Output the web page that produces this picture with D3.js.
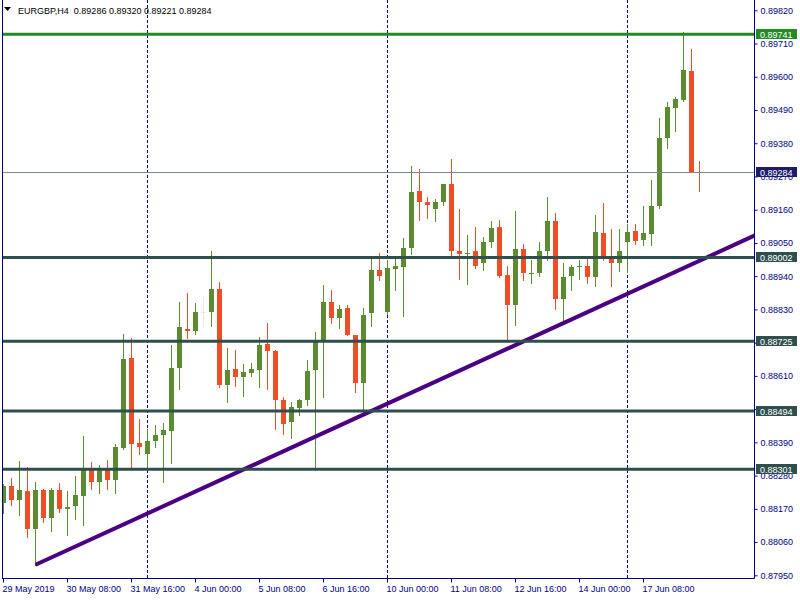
<!DOCTYPE html>
<html><head><meta charset="utf-8">
<script src="https://cdn.jsdelivr.net/npm/d3@7"></script>
<style>
body{margin:0;background:#fff}
svg{display:block}
text{font-family:"Liberation Sans",Arial,sans-serif;font-size:9px}
</style>
</head><body><svg id="c" width="800" height="600"></svg>
<script>
const headerText = "EURGBP,H4  0.89286 0.89320 0.89221 0.89284";
const opens  = [0.88189,0.88246,0.88198,0.88230,0.88102,0.88233,0.88138,0.88233,0.88171,0.88178,
  0.88214,0.88299,0.88260,0.88306,0.88264,0.88372,0.88670,0.88389,0.88350,0.88393,
  0.88413,0.88429,0.88635,0.88766,0.88757,0.88822,0.88823,0.88898,0.88581,0.88634,
  0.88605,0.88621,0.88628,0.88716,0.88693,0.88531,0.88459,0.88505,0.88529,0.88628,
  0.88724,0.88855,0.88803,0.88835,0.88746,0.88588,0.88817,0.88961,0.88820,0.88965,
  0.88972,0.89032,0.89223,0.89186,0.89161,0.89184,0.89246,0.89024,0.89015,0.89024,
  0.88982,0.89052,0.89104,0.88945,0.88843,0.89031,0.88949,0.88950,0.89022,0.89123,
  0.88863,0.88939,0.88969,0.88974,0.88936,0.89084,0.89001,0.88982,0.89052,0.89090,
  0.89061,0.89081,0.89171,0.89396,0.89497,0.89524,0.89620,0.89286];
const highs  = [0.88253,0.88272,0.88329,0.88309,0.88260,0.88235,0.88240,0.88256,0.88230,0.88279,
  0.88412,0.88326,0.88316,0.88332,0.88385,0.88749,0.88736,0.88468,0.88435,0.88448,
  0.88455,0.88713,0.88855,0.88885,0.88852,0.88875,0.89024,0.88922,0.88703,0.88696,
  0.88650,0.88653,0.88739,0.88786,0.88696,0.88541,0.88524,0.88534,0.88663,0.88756,
  0.88912,0.88895,0.88845,0.88845,0.88746,0.88835,0.89004,0.89018,0.88994,0.88998,
  0.89067,0.89305,0.89296,0.89203,0.89196,0.89246,0.89329,0.89163,0.89077,0.89104,
  0.89070,0.89123,0.89127,0.88974,0.89157,0.89047,0.88994,0.89054,0.89203,0.89150,
  0.88984,0.88978,0.88994,0.89004,0.89143,0.89183,0.89097,0.89097,0.89114,0.89114,
  0.89173,0.89259,0.89464,0.89517,0.89534,0.89748,0.89693,0.89320];
const lows   = [0.88156,0.88184,0.88151,0.88078,0.87985,0.88128,0.88095,0.88161,0.88082,0.88135,
  0.88115,0.88234,0.88221,0.88237,0.88224,0.88369,0.88304,0.88350,0.88299,0.88373,
  0.88260,0.88323,0.88565,0.88734,0.88747,0.88774,0.88774,0.88572,0.88522,0.88575,
  0.88542,0.88611,0.88572,0.88568,0.88433,0.88419,0.88406,0.88482,0.88512,0.88300,
  0.88539,0.88786,0.88770,0.88744,0.88558,0.88492,0.88774,0.88926,0.88815,0.88893,
  0.88807,0.89015,0.89127,0.89133,0.89121,0.89174,0.89002,0.88932,0.88913,0.88966,
  0.88962,0.89038,0.88938,0.88721,0.88779,0.88926,0.88916,0.88939,0.88992,0.88833,
  0.88793,0.88893,0.88932,0.88919,0.88909,0.88995,0.88909,0.88956,0.88955,0.89048,
  0.89042,0.89042,0.89166,0.89363,0.89419,0.89521,0.89286,0.89221];
const closes = [0.88246,0.88198,0.88233,0.88102,0.88233,0.88141,0.88233,0.88171,0.88177,0.88216,
  0.88299,0.88260,0.88303,0.88264,0.88375,0.88667,0.88386,0.88373,0.88395,0.88415,
  0.88432,0.88637,0.88773,0.88760,0.88822,0.88822,0.88898,0.88581,0.88630,0.88605,
  0.88624,0.88634,0.88713,0.88691,0.88529,0.88452,0.88508,0.88531,0.88627,0.88726,
  0.88855,0.88802,0.88832,0.88744,0.88588,0.88812,0.88961,0.88942,0.88968,0.88974,
  0.89034,0.89219,0.89184,0.89174,0.89186,0.89246,0.89022,0.89015,0.89018,0.88975,
  0.89054,0.89100,0.88941,0.88843,0.89031,0.88949,0.88951,0.89024,0.89123,0.88863,
  0.88938,0.88971,0.88974,0.88936,0.89087,0.88999,0.88982,0.89024,0.89087,0.89058,
  0.89084,0.89173,0.89398,0.89501,0.89527,0.89623,0.89286,0.89284];
const timeTickIndex  = [0,8,16,24,32,40,48,56,64,72,80];
const timeTickLabels = ["29 May 2019","30 May 08:00","31 May 16:00","4 Jun 00:00","5 Jun 08:00","6 Jun 16:00",
  "10 Jun 00:00","11 Jun 08:00","12 Jun 16:00","14 Jun 00:00","17 Jun 08:00"];
const separatorIndex = [18,48,78];
const priceTicks = [0.87950,0.88060,0.88170,0.88280,0.88390,0.88500,0.88610,0.88720,0.88830,0.88940,
  0.89050,0.89160,0.89270,0.89380,0.89490,0.89600,0.89710,0.89820];
const levelValues = [0.89002,0.88725,0.88494,0.88301];
const resistanceValue = 0.89741;
const bidValue = 0.89284;
const trendIndex = [4,62];
const trendPrice = [0.87985,0.88688];

const svg = d3.select("#c");
const L = 2, R = 754, B = 578;
const x = d3.scaleLinear().domain([0,87]).range([3.5,699.5]);
const y = d3.scaleLinear().domain([0.8795,0.8982]).range([575.3,10.3]);
const navy = "#000080", up = "#5B8C2F", dn = "#F24C24", doji = "#F3E3D5";

svg.append("rect").attr("width",800).attr("height",600).attr("fill","#fff");
svg.append("defs").append("clipPath").attr("id","plot").append("rect")
  .attr("x",L).attr("y",0).attr("width",R-L).attr("height",B);

const plot = svg.append("g").attr("clip-path","url(#plot)");

// period separators
plot.selectAll("line.sep").data(separatorIndex).join("line")
  .attr("x1",d=>Math.floor(x(d))+0.5).attr("x2",d=>Math.floor(x(d))+0.5)
  .attr("y1",0).attr("y2",B).attr("stroke",navy).attr("stroke-width",1)
  .attr("stroke-dasharray","3,2");

// candles
const data = opens.map((o,i)=>({i,o,h:highs[i],l:lows[i],c:closes[i]}));
const col = d => d.c>d.o ? up : (d.c<d.o ? dn : doji);
const cg = plot.append("g");
cg.selectAll("line").data(data).join("line")
  .attr("x1",d=>Math.floor(x(d.i))+0.5).attr("x2",d=>Math.floor(x(d.i))+0.5)
  .attr("y1",d=>Math.round(y(d.h))).attr("y2",d=>Math.round(y(d.l))+1)
  .attr("stroke",col).attr("stroke-width",1);
cg.selectAll("rect").data(data).join("rect")
  .attr("x",d=>Math.floor(x(d.i))-2)
  .attr("width",5)
  .attr("y",d=>Math.round(y(Math.max(d.o,d.c))))
  .attr("height",d=>Math.max(1,Math.round(y(Math.min(d.o,d.c)))-Math.round(y(Math.max(d.o,d.c)))))
  .attr("fill",col);

// trend line
const slope = (trendPrice[1]-trendPrice[0])/(trendIndex[1]-trendIndex[0]);
const xEnd = x.invert(R+2);
const trendPts = [[trendIndex[0],trendPrice[0]],[xEnd,trendPrice[0]+slope*(xEnd-trendIndex[0])]];
plot.append("path").attr("d",d3.line().x(d=>x(d[0])).y(d=>y(d[1]))(trendPts))
  .attr("stroke","#4B0082").attr("stroke-width",4).attr("fill","none");

// horizontal levels
plot.selectAll("line.lvl").data(levelValues).join("line")
  .attr("x1",L).attr("x2",R).attr("y1",d=>y(d)).attr("y2",d=>y(d))
  .attr("stroke","#2F4F4F").attr("stroke-width",3);
plot.append("line").attr("x1",L).attr("x2",R).attr("y1",y(resistanceValue)).attr("y2",y(resistanceValue))
  .attr("stroke","#228B22").attr("stroke-width",3);
plot.append("line").attr("x1",L).attr("x2",R)
  .attr("y1",Math.round(y(bidValue))+0.5).attr("y2",Math.round(y(bidValue))+0.5)
  .attr("stroke","#778899").attr("stroke-width",1);

// frame
svg.append("line").attr("x1",L+0.5).attr("x2",L+0.5).attr("y1",0).attr("y2",B+0.5).attr("stroke",navy);
svg.append("line").attr("x1",L).attr("x2",R+0.5).attr("y1",B+0.5).attr("y2",B+0.5).attr("stroke",navy);
svg.append("line").attr("x1",R+0.5).attr("x2",R+0.5).attr("y1",0).attr("y2",B+0.5).attr("stroke",navy);

// right axis
const ay = svg.append("g").attr("transform",`translate(${R+0.5},0)`)
  .call(d3.axisRight(y).tickValues(priceTicks).tickFormat(d3.format(".5f")).tickSize(3).tickSizeOuter(0).tickPadding(3));
ay.select(".domain").remove();
ay.selectAll("line").attr("stroke",navy);
ay.selectAll("text").attr("fill",navy).style("font-family",'"Liberation Sans",Arial,sans-serif').style("font-size","9px");

// bottom axis
const ax = svg.append("g").attr("transform",`translate(0,${B+0.5})`)
  .call(d3.axisBottom(x).tickValues(timeTickIndex).tickFormat((d,k)=>timeTickLabels[k]).tickSize(4).tickSizeOuter(0));
ax.select(".domain").remove();
ax.selectAll(".tick").attr("transform",d=>`translate(${Math.floor(x(d))+0.5},0)`);
ax.selectAll("line").attr("stroke",navy);
ax.selectAll("text").attr("fill",navy).attr("text-anchor","start").attr("x",-1).attr("y",7)
  .style("font-family",'"Liberation Sans",Arial,sans-serif').style("font-size","9px");

// price labels
const tags = [
  {v:resistanceValue, fill:"#228B22"},
  ...levelValues.map(v=>({v, fill:"#2F4F4F"})),
  {v:bidValue, fill:"#1C1C6B"}
];
const tg = svg.append("g");
tags.forEach(t=>{
  const yy = Math.round(y(t.v));
  tg.append("rect").attr("x",756).attr("y",yy-5).attr("width",41).attr("height",10).attr("fill",t.fill);
  tg.append("text").attr("x",760).attr("y",yy+3.5).attr("fill","#fff").text(d3.format(".5f")(t.v));
});

// header
svg.append("path").attr("d","M4,7 L11,7 L7.5,11 Z").attr("fill","#000");
svg.append("text").attr("x",18).attr("y",14).attr("fill","#000").attr("xml:space","preserve")
  .style("white-space","pre").text(headerText);
</script>
</body></html>
